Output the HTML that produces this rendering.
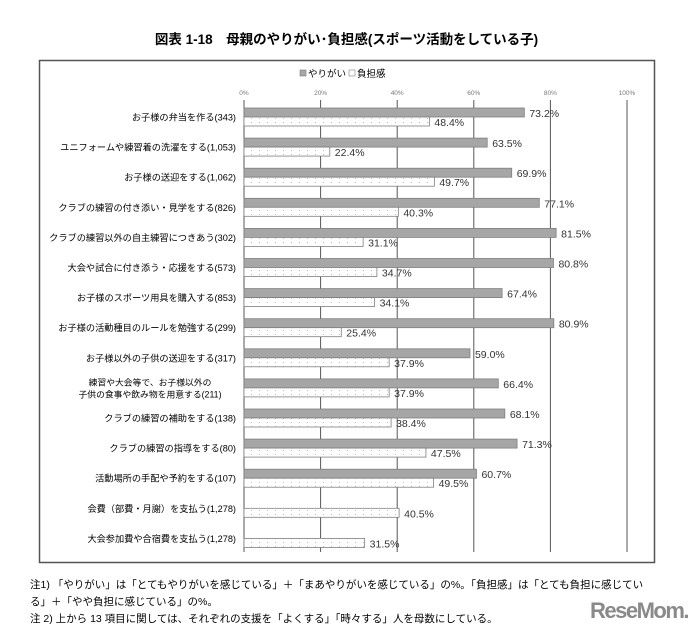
<!DOCTYPE html>
<html><head><meta charset="utf-8">
<style>
body{margin:0;width:693px;height:634px;background:#fff;font-family:"Liberation Sans","Noto Sans CJK JP",sans-serif;position:relative;overflow:hidden}
.t{position:absolute;white-space:nowrap}
</style></head>
<body>
<div class="t" style="left:0;width:693px;top:28px;text-align:center;font-weight:bold;font-size:13.5px">図表 1-18　母親のやりがい･負担感(スポーツ活動をしている子)</div>
<svg id="c" width="693" height="634" style="position:absolute;left:0;top:0"></svg>
<div class="t" style="left:30px;top:577px;font-size:10.5px;line-height:17px">注1) 「やりがい」は「とてもやりがいを感じている」＋「まあやりがいを感じている」の%。「負担感」は「とても負担に感じてい<br>る」＋「やや負担に感じている」の%。</div>
<div class="t" style="left:30px;top:611px;font-size:10.5px">注 2) 上から 13 項目に関しては、それぞれの支援を「よくする」「時々する」人を母数にしている。</div>
<div class="t" style="left:590px;top:598px;font-size:22px;font-weight:bold;color:#8a8a8a;letter-spacing:-1.5px">ReseMom.</div>
<script>
const categories=["お子様の弁当を作る(343)","ユニフォームや練習着の洗濯をする(1,053)","お子様の送迎をする(1,062)","クラブの練習の付き添い・見学をする(826)","クラブの練習以外の自主練習につきあう(302)","大会や試合に付き添う・応援をする(573)","お子様のスポーツ用具を購入する(853)","お子様の活動種目のルールを勉強する(299)","お子様以外の子供の送迎をする(317)","練習や大会等で、お子様以外の|子供の食事や飲み物を用意する(211)","クラブの練習の補助をする(138)","クラブの練習の指導をする(80)","活動場所の手配や予約をする(107)","会費（部費・月謝）を支払う(1,278)","大会参加費や合宿費を支払う(1,278)"];
const yarigai=[73.2,63.5,69.9,77.1,81.5,80.8,67.4,80.9,59.0,66.4,68.1,71.3,60.7,null,null];
const futan=[48.4,22.4,49.7,40.3,31.1,34.7,34.1,25.4,37.9,37.9,38.4,47.5,49.5,40.5,31.5];
const ticks=[0,20,40,60,80,100];
const NS="http://www.w3.org/2000/svg";
const svg=document.getElementById('c');
const x=v=>244+v*3.83;
const y0=108,pitch=30.1,bh=9;
function mk(t,a,p){const e=document.createElementNS(NS,t);for(const k in a)e.setAttribute(k,a[k]);(p||svg).appendChild(e);return e;}
const defs=mk('defs',{});
const pat=mk('pattern',{id:'dots',width:8,height:4,patternUnits:'userSpaceOnUse'},defs);
mk('rect',{width:8,height:4,fill:'#fff'},pat);
mk('rect',{x:3,y:2,width:1,height:1,fill:'#bbb'},pat);
const box=mk('rect',{x:39.5,y:60.5,width:615,height:502,fill:'none',stroke:'#555','stroke-width':1.5});


const lg=mk('g',{});


mk('rect',{x:300,y:70,width:6,height:6,fill:'#a6a6a6',stroke:'#7f7f7f','stroke-width':0.6},lg);
const l1=mk('text',{x:308,y:77,'font-size':9.5},lg);l1.textContent='やりがい';
mk('rect',{x:349,y:70,width:6,height:6,fill:'#fff',stroke:'#7f7f7f','stroke-width':0.6},lg);
const l2=mk('text',{x:357,y:77,'font-size':9.5},lg);l2.textContent='負担感';
ticks.forEach(t=>{
  const g=mk('line',{x1:x(t),x2:x(t),y1:100,y2:552,stroke:'#555','stroke-width':1});
  
  
  const tx=mk('text',{x:x(t),y:95,'font-size':6.5,fill:'#777','text-anchor':'middle'});
  
  
  tx.textContent=t+'%';
});
categories.forEach((c,i)=>{
  const top=y0+i*pitch;
  const lines=c.split('|');
  lines.forEach((s,j)=>{
    const multi=lines.length>1;
    const tl=mk('text',{x:multi?150:236,y:top+bh+3.5+(j-(lines.length-1)/2)*12,'font-size':multi?8.8:9.2,'text-anchor':multi?'middle':'end'});
    
    
    tl.textContent=s;
  });
  if(yarigai[i]!=null){
    const b=mk('rect',{x:x(0),y:top,width:x(yarigai[i])-x(0),height:bh,fill:'#a6a6a6',stroke:'#7f7f7f','stroke-width':0.8});
    
    
    const v=mk('text',{x:x(yarigai[i])+5,y:top+bh,'font-size':10.5,fill:'#333'});
    
    
    v.textContent=yarigai[i].toFixed(1)+'%';
  }
  const b2=mk('rect',{x:x(0),y:top+bh,width:x(futan[i])-x(0),height:bh,fill:'url(#dots)',stroke:'#7f7f7f','stroke-width':0.8});
  
  
  const v2=mk('text',{x:x(futan[i])+5,y:top+2*bh,'font-size':10.5,fill:'#333'});
  
  
  v2.textContent=futan[i].toFixed(1)+'%';
});
</script>
</body></html>
